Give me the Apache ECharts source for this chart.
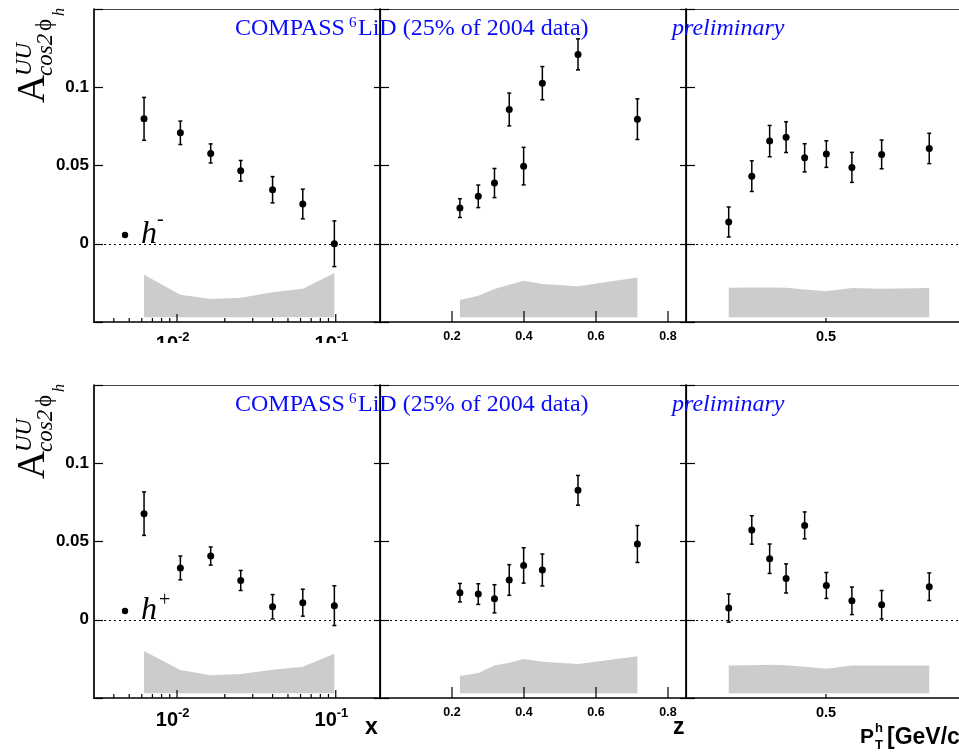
<!DOCTYPE html>
<html>
<head>
<meta charset="utf-8">
<script src="https://cdn.jsdelivr.net/npm/echarts@6/dist/echarts.min.js"></script>
<style>
  html, body { margin: 0; padding: 0; background: #fff; }
  #chart { width: 959px; height: 753px; }
</style>
</head>
<body>
<div id="chart"></div>
<script>
// ---- bin centres ----
const xBins  = [0.0062, 0.0105, 0.0163, 0.0252, 0.040, 0.062, 0.098];
const zBins  = [0.222, 0.273, 0.318, 0.359, 0.399, 0.451, 0.550, 0.715];
const ptBins = [0.222, 0.288, 0.339, 0.386, 0.439, 0.501, 0.574, 0.659, 0.795];

// ---- negative hadrons ----
const hmX      = [0.0798, 0.0709, 0.0577, 0.0466, 0.0345, 0.0254, 0.0000];
const hmXErr   = [0.0137, 0.0075, 0.0061, 0.0066, 0.0084, 0.0095, 0.0146];
const hmXSys   = [0.0272, 0.0144, 0.0117, 0.0125, 0.0160, 0.0183, 0.0283];
const hmZ      = [0.0228, 0.0303, 0.0388, 0.0858, 0.0496, 0.1026, 0.1210, 0.0796];
const hmZErr   = [0.0060, 0.0072, 0.0093, 0.0105, 0.0120, 0.0106, 0.0099, 0.0130];
const hmZSys   = [0.0110, 0.0138, 0.0181, 0.0208, 0.0234, 0.0213, 0.0198, 0.0255];
const hmPt     = [0.0139, 0.0432, 0.0656, 0.0681, 0.0549, 0.0573, 0.0488, 0.0571, 0.0609];
const hmPtErr  = [0.0096, 0.0098, 0.0100, 0.0098, 0.0090, 0.0085, 0.0096, 0.0092, 0.0097];
const hmPtSys  = [0.0189, 0.0190, 0.0191, 0.0189, 0.0178, 0.0166, 0.0187, 0.0183, 0.0187];

// ---- positive hadrons ----
const hpX      = [0.0678, 0.0331, 0.0407, 0.0251, 0.0083, 0.0109, 0.0090];
const hpXErr   = [0.0139, 0.0076, 0.0058, 0.0064, 0.0078, 0.0086, 0.0127];
const hpXSys   = [0.0270, 0.0149, 0.0115, 0.0123, 0.0151, 0.0170, 0.0253];
const hpZ      = [0.0173, 0.0164, 0.0134, 0.0254, 0.0347, 0.0318, 0.0827, 0.0484];
const hpZErr   = [0.0059, 0.0066, 0.0090, 0.0098, 0.0113, 0.0102, 0.0095, 0.0118];
const hpZSys   = [0.0111, 0.0130, 0.0177, 0.0196, 0.0219, 0.0202, 0.0187, 0.0236];
const hpPt     = [0.0075, 0.0574, 0.0390, 0.0264, 0.0603, 0.0219, 0.0121, 0.0096, 0.0211];
const hpPtErr  = [0.0090, 0.0091, 0.0094, 0.0093, 0.0086, 0.0083, 0.0088, 0.0091, 0.0088];
const hpPtSys  = [0.0177, 0.0179, 0.0183, 0.0179, 0.0170, 0.0157, 0.0177, 0.0177, 0.0177];

// systematic bands hang from this level
const sysBase = -0.047;

// ---- axis ticks and labels ----
const yTickValues  = [0, 0.05, 0.1];
const yTickLabels  = ['0', '0.05', '0.1'];
const xMajorTicks  = [0.01, 0.1];
const xMajorLabels = [['10', '-2'], ['10', '-1']];
const xMinorTicks  = [0.004, 0.005, 0.006, 0.007, 0.008, 0.009,
                      0.02, 0.03, 0.04, 0.05, 0.06, 0.07, 0.08, 0.09];
const zTicks       = [0.2, 0.4, 0.6, 0.8];
const zTickLabels  = ['0.2', '0.4', '0.6', '0.8'];
const ptTicks      = [0.5];
const ptTickLabels = ['0.5'];

const Y_MIN = -0.05, Y_MAX = 0.15, Y_STEP = 0.05;
const SANS = 'Liberation Sans', SERIF = 'Liberation Serif';
const BLUE = '#0a0aff';
const BAND = '#cccccc';

const rowTops = [9, 385];
const GRID_H = 313;
const cols = [
  { left: 94,  width: 286, type: 'log',   min: 0.003, max: 0.19 },
  { left: 380, width: 306, type: 'value', min: 0,     max: 0.85 },
  { left: 686, width: 315, type: 'value', min: 0.1,   max: 1.0 }
];
const panels = [
  [ { bins: xBins,  val: hmX,  err: hmXErr,  sys: hmXSys },
    { bins: zBins,  val: hmZ,  err: hmZErr,  sys: hmZSys },
    { bins: ptBins, val: hmPt, err: hmPtErr, sys: hmPtSys } ],
  [ { bins: xBins,  val: hpX,  err: hpXErr,  sys: hpXSys },
    { bins: zBins,  val: hpZ,  err: hpZErr,  sys: hpZSys },
    { bins: ptBins, val: hpPt, err: hpPtErr, sys: hpPtSys } ]
];

// text placed by its alphabetic baseline
function txt(text, x, baseline, fs, o) {
  o = o || {};
  return {
    type: 'text', x: x, y: baseline - 0.34 * fs, z: o.z || 0,
    style: {
      text: text, fontSize: fs, fontFamily: o.family || SANS,
      fontStyle: o.italic ? 'italic' : 'normal',
      fontWeight: o.bold ? 'bold' : 'normal',
      fill: o.fill || '#000', align: o.align || 'left', verticalAlign: 'middle'
    }
  };
}

// tick definitions per column: value, length, label index
const tickDefs = [
  xMajorTicks.map((v, i) => ({ v: v, len: 8, lab: i }))
    .concat(xMinorTicks.map(v => ({ v: v, len: 4, lab: -1 }))),
  zTicks.map((v, i) => ({ v: v, len: 11, lab: i })),
  ptTicks.map((v, i) => ({ v: v, len: 4, lab: i }))
];
function tickLabel(c, i, x, ay) {
  if (c === 0) {
    return [
      txt(xMajorLabels[i][0], x + 1, ay + 29, 20, { bold: true, align: 'right' }),
      txt(xMajorLabels[i][1], x + 1, ay + 19.5, 13, { bold: true })
    ];
  }
  if (c === 1) return [txt(zTickLabels[i], x, ay + 19, 12.5, { bold: true, align: 'center' })];
  return [txt(ptTickLabels[i], x, ay + 19.5, 14.5, { bold: true, align: 'center' })];
}

const grid = [], xAxis = [], xAxisTop = [], yAxis = [], yAxisRight = [], series = [];

for (let r = 0; r < 2; r++) {
  for (let c = 0; c < 3; c++) {
    const g = r * 3 + c;
    const col = cols[c];
    const p = panels[r][c];
    grid.push({ left: col.left, top: rowTops[r], width: col.width, height: GRID_H,
                containLabel: false, outerBoundsMode: 'none' });
    xAxis.push({
      gridIndex: g, type: col.type, logBase: 10, min: col.min, max: col.max,
      axisLine: { show: true, onZero: false, lineStyle: { color: '#000', width: 1.7 } },
      axisTick: { show: false }, axisLabel: { show: false }, splitLine: { show: false }
    });
    xAxisTop.push({
      gridIndex: g, type: col.type, logBase: 10, min: col.min, max: col.max, position: 'top',
      axisLine: { show: true, onZero: false, lineStyle: { color: '#444', width: 1 } },
      axisTick: { show: false }, axisLabel: { show: false }, splitLine: { show: false }
    });
    yAxis.push({
      gridIndex: g, type: 'value', min: Y_MIN, max: Y_MAX, interval: Y_STEP,
      axisLine: { show: true, onZero: false, lineStyle: { color: '#000', width: 1.7 } },
      axisTick: { show: true, inside: true, length: 9, lineStyle: { color: '#000', width: 1.2 } },
      axisLabel: {
        show: c === 0, margin: 5, fontFamily: SANS, fontWeight: 'bold', fontSize: 17, color: '#000',
        formatter: v => {
          const i = yTickValues.findIndex(t => Math.abs(t - v) < 1e-9);
          return i >= 0 ? yTickLabels[i] : '';
        }
      },
      splitLine: { show: false }
    });
    yAxisRight.push({
      gridIndex: g, type: 'value', min: Y_MIN, max: Y_MAX, interval: Y_STEP, position: 'right',
      axisLine: { show: true, onZero: false, lineStyle: { color: '#000', width: 1.2 } },
      axisTick: { show: true, inside: true, length: 6, lineStyle: { color: '#000', width: 1.2 } },
      axisLabel: { show: false }, splitLine: { show: false }
    });

    // systematic band
    series.push({
      type: 'custom', xAxisIndex: g, yAxisIndex: g, z: 1, silent: true, clip: false,
      data: p.bins.map((b, i) => [b, sysBase + p.sys[i]]),
      encode: { x: 0, y: 1 },
      renderItem: (params, api) => {
        if (params.dataIndex !== 0) return null;
        const top = p.bins.map((b, i) => api.coord([b, sysBase + p.sys[i]]));
        const bot = p.bins.map(b => api.coord([b, sysBase])).reverse();
        return { type: 'polygon', shape: { points: top.concat(bot) }, style: { fill: BAND } };
      }
    });
    // statistical error bars
    series.push({
      type: 'custom', xAxisIndex: g, yAxisIndex: g, z: 3, silent: true, clip: false,
      data: p.bins.map((b, i) => [b, p.val[i], p.err[i]]),
      encode: { x: 0, y: 1 },
      renderItem: (params, api) => {
        const x = api.value(0), y = api.value(1), e = api.value(2);
        const hi = api.coord([x, y + e]), lo = api.coord([x, y - e]);
        const st = { stroke: '#000', lineWidth: 1.5 };
        return { type: 'group', children: [
          { type: 'line', shape: { x1: hi[0], y1: hi[1], x2: lo[0], y2: lo[1] }, style: st },
          { type: 'line', shape: { x1: hi[0] - 2, y1: hi[1], x2: hi[0] + 2, y2: hi[1] }, style: st },
          { type: 'line', shape: { x1: lo[0] - 2, y1: lo[1], x2: lo[0] + 2, y2: lo[1] }, style: st }
        ] };
      }
    });
    // points + zero line
    series.push({
      type: 'scatter', xAxisIndex: g, yAxisIndex: g, z: 4, silent: true,
      symbol: 'circle', symbolSize: 7, itemStyle: { color: '#000', opacity: 1 },
      data: p.bins.map((b, i) => [b, p.val[i]]),
      markLine: {
        silent: true, symbol: ['none', 'none'], label: { show: false },
        lineStyle: { type: [2, 3], color: '#000', width: 1, opacity: 1 },
        data: [{ yAxis: 0 }]
      }
    });
    // x ticks and tick labels
    const defs = tickDefs[c];
    series.push({
      type: 'custom', xAxisIndex: g, yAxisIndex: g, z: 5, silent: true, clip: false,
      data: defs.map(d => [d.v, Y_MIN]),
      encode: { x: 0, y: 1 },
      renderItem: (params, api) => {
        const d = defs[params.dataIndex];
        const pt = api.coord([api.value(0), Y_MIN]);
        const children = [{ type: 'line',
          shape: { x1: pt[0], y1: pt[1], x2: pt[0], y2: pt[1] - d.len },
          style: { stroke: '#000', lineWidth: 1.2 } }];
        if (d.lab >= 0) children.push.apply(children, tickLabel(c, d.lab, pt[0], pt[1]));
        return { type: 'group', children: children };
      }
    });
  }
}

// per-row annotations
const graphics = [
  // upper row's lower edge is trimmed by the lower pad
  { type: 'rect', z: 100, shape: { x: 0, y: 343, width: 959, height: 41 }, style: { fill: '#fff' } }
];
const charges = ['-', '+'];
for (let r = 0; r < 2; r++) {
  const dy = r === 0 ? 0 : 376;
  graphics.push(txt('COMPASS', 235, 37 + dy, 24, { family: SERIF, fill: BLUE, z: 101 }));
  graphics.push(txt('6', 349, 28 + dy, 15, { family: SERIF, fill: BLUE, z: 101 }));
  graphics.push(txt('LiD (25% of 2004 data)', 358, 37 + dy, 24, { family: SERIF, fill: BLUE, z: 101 }));
  graphics.push(txt('preliminary', 672, 37 + dy, 24, { family: SERIF, italic: true, fill: BLUE, z: 101 }));

  // y-axis title, rotated to read upward
  graphics.push({
    type: 'group', x: 47, y: 103 + dy, rotation: Math.PI / 2, z: 101,
    children: [
      txt('A', 0, 0, 39, { family: SERIF, z: 101 }),
      txt('UU', 27, -14, 23, { family: SERIF, italic: true, z: 101 }),
      txt('cos2', 27, 7, 23, { family: SERIF, italic: true, z: 101 }),
      txt('\u03d5', 72, 6, 23, { family: SERIF, z: 101 }),
      txt('h', 87, 18, 16, { family: SERIF, italic: true, z: 101 })
    ]
  });

  // legend entry
  graphics.push({ type: 'circle', z: 101, shape: { cx: 125, cy: 235 + dy, r: 3.2 }, style: { fill: '#000' } });
  graphics.push(txt('h', 141, 245 + dy, 32, { family: SERIF, italic: true, z: 101 }));
  graphics.push(txt(charges[r], r === 0 ? 157 : 159, (r === 0 ? 227 : 231.5) + dy, 20, { family: SERIF, z: 101 }));
}
// axis titles under the lower row
graphics.push(txt('x', 365, 735, 23, { bold: true, z: 101 }));
graphics.push(txt('z', 673, 735, 23, { bold: true, z: 101 }));
graphics.push(txt('P', 860, 744, 21, { bold: true, z: 101 }));
graphics.push(txt('h', 875, 733, 13, { bold: true, z: 101 }));
graphics.push(txt('T', 875, 750, 13, { bold: true, z: 101 }));
graphics.push(txt('[GeV/c]', 887, 745, 23, { bold: true, z: 101 }));

const chart = echarts.init(document.getElementById('chart'), null, { renderer: 'canvas' });
chart.setOption({
  animation: false,
  backgroundColor: '#fff',
  grid: grid,
  xAxis: xAxis.concat(xAxisTop),
  yAxis: yAxis.concat(yAxisRight),
  series: series,
  graphic: { elements: graphics }
});
</script>
</body>
</html>
